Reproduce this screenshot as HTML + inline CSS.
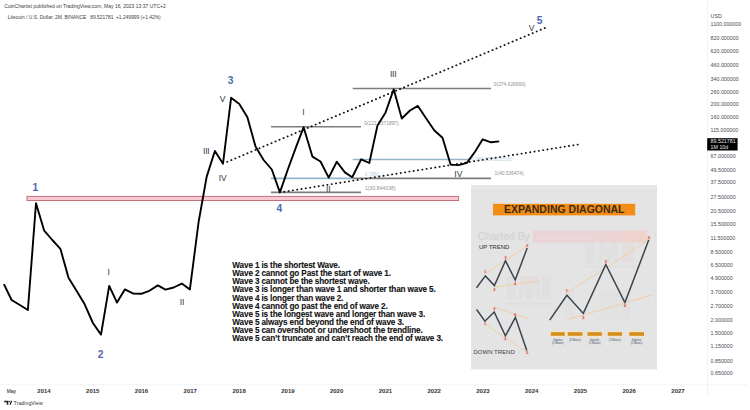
<!DOCTYPE html>
<html><head><meta charset="utf-8">
<style>
html,body{margin:0;padding:0;background:#fff;width:750px;height:410px;overflow:hidden}
svg{position:absolute;left:0;top:0;font-family:"Liberation Sans",sans-serif}
.rules{position:absolute;left:232.3px;top:262px;font:bold 8.2px/8.15px "Liberation Sans",sans-serif;letter-spacing:-0.15px;color:#111;white-space:pre;-webkit-text-stroke:0.1px #111}
</style></head><body>
<svg width="750" height="410" viewBox="0 0 750 410">
<!-- separators -->
<line x1="707.5" y1="0" x2="707.5" y2="396" stroke="#f0f0f3" stroke-width="0.8"/>
<line x1="0" y1="384.7" x2="747.5" y2="384.7" stroke="#f0f0f3" stroke-width="0.8"/>

<!-- header -->
<text x="4.3" y="7.8" font-size="5.03" fill="#3d3d3d">CoinChartist published on TradingView.com, May 16, 2023 13:37 UTC+2</text>
<g font-size="4.93" fill="#3d3d3d"><text x="7.8" y="19.1">Litecoin / U.S. Dollar, 2M, BINANCE</text>
<text x="90.2" y="19.1">89.521781</text><text x="116" y="19.1">+1.249999 (+1.42%)</text></g>

<!-- red zone -->
<rect x="27" y="196.4" width="431.6" height="4.1" fill="#f8c9d1" stroke="#c4707c" stroke-width="1"/>

<!-- fib box 1 -->
<g stroke-width="1.6">
<line x1="271" y1="126.8" x2="361" y2="126.8" stroke="#7d7d7d"/>
<line x1="271" y1="178.4" x2="352.5" y2="178.4" stroke="#93b6cc"/>
<line x1="271" y1="192.4" x2="361" y2="192.4" stroke="#7d7d7d"/>
<!-- fib box 2 -->
<line x1="352.7" y1="88.5" x2="491" y2="88.5" stroke="#7d7d7d"/>
<line x1="352.7" y1="159.5" x2="469" y2="159.5" stroke="#93b6cc"/>
<line x1="352.7" y1="178.4" x2="491" y2="178.4" stroke="#7d7d7d"/>
</g>
<g font-size="4.9" fill="#8f8f8f">
<text x="364.2" y="124.6">0(121.8371897)</text>
<text x="365" y="190.1" textLength="30.6">1(30.844038)</text>
<text x="364.7" y="176" fill="#b9cfdb">0.786(...)</text>
<text x="493.8" y="86.4">0(274.620693)</text>
<text x="494.6" y="175.2">1(40.536474)</text>
<text x="471" y="160.8" fill="#b9cfdb">0.786(65.8021516)</text>
</g>

<!-- trendlines -->
<g stroke="#151515" stroke-width="1.85" stroke-linecap="round" fill="none">
<line x1="224" y1="163.2" x2="545.4" y2="27.8" stroke-dasharray="0.2 4.16" stroke-dashoffset="-3.52"/>
<line x1="282.5" y1="192.05" x2="578.1" y2="144.55" stroke-dasharray="0.2 4.17" stroke-dashoffset="-1.7"/>
</g>

<!-- price line -->
<polyline fill="none" stroke="#000" stroke-width="1.9" stroke-linejoin="round" points="3.9,284.2 11.6,300 19.8,305 27.9,310 36,203.2 44.2,230.7 52.3,240 60.4,248.8 68.5,277.8 76.7,291 84.8,304.6 92.9,323 101,334.6 109.2,285.9 117,302.6 124.8,289.4 133.4,293.6 141.2,293.8 148.6,291.2 157.8,285.4 165.5,289.6 173.6,287.5 181.8,283.6 189.9,289.4 198.6,222 206.7,176.6 214.9,151 223,163.7 231.1,97.8 239.3,103.9 247.4,117.3 255.5,146.6 263.6,160 271.8,169.5 279.9,192.4 288,169 296.2,146.6 303.6,127.3 312.4,156.6 320.5,161.5 328.7,177.6 336.8,161.7 344.9,172.4 352.2,177.2 361.2,159.3 369.3,163 377.5,125.4 385.6,112.4 393.7,89.3 401.8,118.5 410,110.5 417.9,105.9 426.2,118.5 434.4,130.5 442.5,137.8 450.6,164.6 458.7,165.1 466.9,162.9 475,151.7 482.7,139.3 491,142.3 499.2,141.4"/>

<!-- wave labels blue -->
<g font-size="10.2" font-weight="bold" fill="#4d67ad" text-anchor="middle">
<text x="35.3" y="191.2">1</text>
<text x="100.7" y="358.1">2</text>
<text x="230.6" y="83.6">3</text>
<text x="279.3" y="212">4</text>
<text x="539.5" y="23.9">5</text>
</g>
<!-- roman labels -->
<g font-size="8.5" fill="#3d3d3d" stroke="#3d3d3d" stroke-width="0.05" text-anchor="middle">
<text x="108.8" y="275">I</text>
<text x="182" y="305.1">II</text>
<text x="206.2" y="153.8" letter-spacing="-0.25">III</text>
<text x="222.7" y="180.5">IV</text>
<text x="222.5" y="101.5">V</text>
<text x="303.4" y="114.8">I</text>
<text x="328.3" y="191.9">II</text>
<text x="393.1" y="77" letter-spacing="-0.25">III</text>
<text x="458.3" y="177.4">IV</text>
<text x="531.5" y="30.8">V</text>
</g>

<!-- price axis -->
<g font-size="5.3" fill="#4a4a4a">
<text x="710.6" y="18">USD</text>
<text x="710.6" y="25.9" >1100.000000</text>
<text x="710.6" y="39.6">820.000000</text>
<text x="710.6" y="52.7">620.000000</text>
<text x="710.6" y="67.2">460.000000</text>
<text x="710.6" y="81.0">340.000000</text>
<text x="710.6" y="93.8">260.000000</text>
<text x="710.6" y="106.3">200.000000</text>
<text x="710.6" y="118.9">160.000000</text>
<text x="710.6" y="132.2">115.000000</text>
<text x="710.6" y="157.8">67.000000</text>
<text x="710.6" y="172.1">49.500000</text>
<text x="710.6" y="184.0">37.500000</text>
<text x="710.6" y="199.0">27.500000</text>
<text x="710.6" y="213.2">20.500000</text>
<text x="710.6" y="226.2">15.500000</text>
<text x="710.6" y="239.8">11.500000</text>
<text x="710.6" y="253.8">8.500000</text>
<text x="710.6" y="266.8">6.500000</text>
<text x="710.6" y="280.0">4.900000</text>
<text x="710.6" y="293.7">3.700000</text>
<text x="710.6" y="308.2">2.700000</text>
<text x="710.6" y="322.1">2.000000</text>
<text x="710.6" y="335.4">1.500000</text>
<text x="710.6" y="348.2">1.150000</text>
<text x="710.6" y="362.7">0.850000</text>
<text x="710.6" y="375.2">0.650000</text>
</g>
<rect x="707.2" y="138.2" width="30.4" height="12.3" fill="#000"/>
<g font-size="5.3" fill="#e6e6e6">
<text x="710.6" y="143.4">89.521781</text>
<text x="710.6" y="149.2">1M 10d</text>
</g>

<!-- time axis -->
<text x="6.8" y="392.5" font-size="4.9" fill="#3a3a3a" stroke="#3a3a3a" stroke-width="0.08">May</text>
<g font-size="6" font-weight="bold" fill="#333" text-anchor="middle">
<text x="44" y="393.1">2014</text>
<text x="92.8" y="393.1">2015</text>
<text x="141.5" y="393.1">2016</text>
<text x="190.3" y="393.1">2017</text>
<text x="239.1" y="393.1">2018</text>
<text x="287.9" y="393.1">2019</text>
<text x="336.6" y="393.1">2020</text>
<text x="385.4" y="393.1">2021</text>
<text x="434.2" y="393.1">2022</text>
<text x="482.9" y="393.1">2023</text>
<text x="531.7" y="393.1">2024</text>
<text x="580.5" y="393.1">2025</text>
<text x="629.2" y="393.1">2026</text>
<text x="678" y="393.1">2027</text>
</g>

<!-- TV logo -->
<g fill="#222">
<path d="M4.2 400.8h4.1v3.9h-1.6v-2.4h-2.5z"/>
<circle cx="9.2" cy="401.5" r="0.75"/>
<path d="M9.5 404.7l1.4-3.9h1.4l-1.5 3.9z"/>
</g>
<text x="13.6" y="404.6" font-size="5.3" fill="#333">TradingView</text>

<!-- infographic -->
<g id="info">
<rect x="471.1" y="185" width="185.5" height="184.5" fill="#e4e4e4"/>
<rect x="471.1" y="185" width="185.5" height="5.5" fill="#e7e7e7"/>
<line x1="471.1" y1="190.6" x2="656.6" y2="190.6" stroke="#dedede" stroke-width="0.6"/>
<line x1="656.2" y1="185" x2="656.2" y2="369.5" stroke="#dcdcdc" stroke-width="0.8"/>
<!-- watermarks -->
<g opacity="0.3">
<rect x="507" y="276" width="9" height="24" fill="#d9d9d9"/>
<path d="M518 300 L521 276 L527 276 L529 288 L532 276 L538 276 L541 300 L536 300 L534 286 L531 300 L527 300 L524 286 L522 300Z" fill="#d8d8d8"/>
<path d="M520 276 L538 276 L536 282 L522 282Z" fill="#e6c7c9"/>
<rect x="542" y="276" width="9" height="24" fill="#d9d9d9"/>
<rect x="505" y="302" width="48" height="3" fill="#dadada"/>
<rect x="585" y="243" width="10" height="20" fill="#dadada"/>
<path d="M597 263 L600 243 L606 243 L608 253 L611 243 L617 243 L620 263 L615 263 L613 252 L610 263 L606 263 L603 252 L601 263Z" fill="#d9d9d9"/>
<rect x="622" y="243" width="12" height="20" fill="#e3cfd0"/>
<rect x="583" y="265" width="55" height="3" fill="#dcdcdc"/>
<rect x="565" y="290" width="10" height="30" fill="#dcdcdc"/>
<rect x="600" y="290" width="30" height="30" fill="#dddddd"/>
</g>
<rect x="493" y="203.8" width="142.2" height="11.6" fill="#f38d17"/>
<text x="504" y="213.2" font-size="10.45" font-weight="bold" fill="#3a2a10" textLength="120.5">EXPANDING DIAGONAL</text>
<text x="477.8" y="239.6" font-size="10.4" fill="#d4d4d4" stroke="#d4d4d4" stroke-width="0.3">Charted By</text>
<rect x="533" y="230.7" width="114" height="11.8" fill="#ebd2d5"/>
<text x="535" y="240" font-size="9.5" fill="#efdde0">allianzaonline</text>
<rect x="622" y="231" width="25" height="11" fill="#f0d2cc"/>
<text x="478.9" y="248.9" font-size="6" fill="#404040" stroke="#404040" stroke-width="0.08">UP TREND</text>
<text x="473.5" y="353.6" font-size="6" fill="#4a4a4a" stroke="#4a4a4a" stroke-width="0.05">DOWN TREND</text>
<!-- orange trendlines -->
<g stroke="#f1cfa8" stroke-width="1" fill="none">
<line x1="485" y1="274" x2="527.2" y2="246"/>
<line x1="494.4" y1="287" x2="540" y2="281"/>
<line x1="485" y1="324" x2="527.2" y2="352.5"/>
<line x1="494.2" y1="307" x2="529" y2="319"/>
<line x1="566.9" y1="293" x2="648.9" y2="239.6"/>
<line x1="569" y1="319.2" x2="652.7" y2="294.7"/>
</g>
<g stroke="#3c4650" stroke-width="1.5" fill="none" stroke-linejoin="miter">
<polyline points="476.5,287.8 485.4,275.9 494.4,285.6 505.5,260.8 515.2,280 527.2,248"/>
<polyline points="476.6,309.5 484.9,321.2 494.2,312 505.4,335.9 515.4,317.3 526.8,350.5"/>
<polyline points="549.7,320.1 566.9,295.2 583.3,313.4 605.8,264.5 624.9,302.6 648.9,239.6"/>
</g>
<g fill="#f5c9c4">
<circle cx="485" cy="272" r="1.8"/><circle cx="494.4" cy="289.8" r="1.8"/><circle cx="505.5" cy="257.4" r="1.8"/><circle cx="515.2" cy="283.9" r="1.8"/><circle cx="527.2" cy="245.5" r="1.8"/>
<circle cx="485" cy="324" r="1.8"/><circle cx="494.3" cy="309" r="1.8"/><circle cx="505.2" cy="339" r="1.8"/><circle cx="515" cy="314.5" r="1.8"/><circle cx="527.2" cy="352.6" r="1.8"/>
<circle cx="566.9" cy="290.8" r="1.9"/><circle cx="583.3" cy="318" r="1.9"/><circle cx="605.8" cy="261.6" r="1.9"/><circle cx="624.9" cy="305.5" r="1.9"/><circle cx="648.9" cy="238.2" r="1.9"/>
</g>
<g font-size="3" font-weight="bold" fill="#c0392b" text-anchor="middle">
<text x="485" y="273.1">1</text><text x="494.4" y="290.9">2</text><text x="505.5" y="258.5">3</text><text x="515.2" y="285">4</text><text x="527.2" y="246.6">5</text>
<text x="485" y="325.1">1</text><text x="494.3" y="310.1">2</text><text x="505.2" y="340.1">3</text><text x="515" y="315.6">4</text><text x="527.2" y="353.7">5</text>
<text x="566.9" y="291.9">1</text><text x="583.3" y="319.1">2</text><text x="605.8" y="262.7">3</text><text x="624.9" y="306.6">4</text><text x="648.9" y="239.3">5</text>
</g>
<g fill="#fbe2bd">
<rect x="549.9" y="331.2" width="15.9" height="5.6" rx="1.5"/>
<rect x="566.7" y="331.2" width="16.7" height="5.6" rx="1.5"/>
<rect x="586.5" y="331.2" width="16.4" height="5.6" rx="1.5"/>
<rect x="606.8" y="331.2" width="16.2" height="5.6" rx="1.5"/>
<rect x="628.3" y="331.2" width="16.7" height="5.6" rx="1.5"/>
</g>
<g fill="#d3901f">
<rect x="550.9" y="332.2" width="13.9" height="3.6"/>
<rect x="567.7" y="332.2" width="14.7" height="3.6"/>
<rect x="587.5" y="332.2" width="14.4" height="3.6"/>
<rect x="607.8" y="332.2" width="14.2" height="3.6"/>
<rect x="629.3" y="332.2" width="14.7" height="3.6"/>
</g>
<g font-size="2.6" fill="#3b4660" text-anchor="middle">
<text x="557.8" y="341">Impulse</text><text x="557.8" y="344.2">(5 Waves)</text>
<text x="575" y="341">(3 Waves)</text>
<text x="594.7" y="341">Impulse</text><text x="594.7" y="344.2">(5 Waves)</text>
<text x="614.9" y="341">(3 Waves)</text>
<text x="636.6" y="341">Impulse</text><text x="636.6" y="344.2">(5 Waves)</text>
</g>
</g>
</svg>
<div class="rules">Wave 1 is the shortest Wave.
Wave 2 cannot go Past the start of wave 1.
Wave 3 cannot be the shortest wave.
Wave 3 is longer than wave 1 and shorter than wave 5.
Wave 4 is longer than wave 2.
Wave 4 cannot go past the end of wave 2.
Wave 5 is the longest wave and longer than wave 3.
Wave 5 always end beyond the end of wave 3.
Wave 5 can overshoot or undershoot the trendline.
Wave 5 can’t truncate and can’t reach the end of wave 3.</div>
</body></html>
